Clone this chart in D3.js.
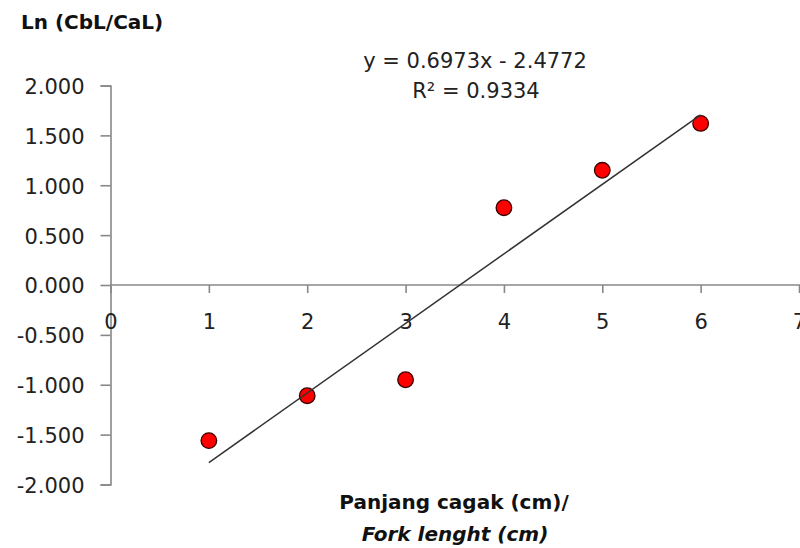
<!DOCTYPE html>
<html><head><meta charset="utf-8">
<script src="https://cdn.jsdelivr.net/npm/d3@7"></script>
<style>html,body{margin:0;padding:0;background:#fff;}svg{display:block;}</style>
</head><body>
<svg id="c" width="800" height="548"></svg>
<script>
const xValues = [1, 2, 3, 4, 5, 6];
const yValues = [-1.56, -1.11, -0.95, 0.775, 1.15, 1.62];
const xTicks = [0, 1, 2, 3, 4, 5, 6, 7];
const yTicks = [2, 1.5, 1, 0.5, 0, -0.5, -1, -1.5, -2];
const yTickLabels = ["2.000","1.500","1.000","0.500","0.000","-0.500","-1.000","-1.500","-2.000"];
const slope = 0.6973, intercept = -2.4772;
const trendRange = [1, 6];
const yTitle = "Ln (CbL/CaL)";
const xTitle1 = "Panjang cagak (cm)/";
const xTitle2 = "Fork lenght (cm)";
const eqText = "y = 0.6973x - 2.4772";
const r2Text = "R\u00B2 = 0.9334";

const svg = d3.select("#c");
const FONT = "'DejaVu Sans', Verdana, sans-serif";
const x = d3.scaleLinear().domain([0, 7]).range([110.5, 799]);
const y = d3.scaleLinear().domain([-2, 2]).range([484.5, 85.5]);
const axisColor = "#888888";

// Y axis
const yAxis = d3.axisLeft(y).tickValues(yTicks).tickSize(10)
  .tickFormat((d, i) => yTickLabels[i]);
const gy = svg.append("g").attr("transform", `translate(${x(0)},0)`).call(yAxis);
gy.select(".domain").attr("stroke", axisColor).attr("stroke-width", 1.6);
gy.selectAll(".tick line").attr("stroke", axisColor).attr("stroke-width", 1.6);
gy.selectAll(".tick text").attr("font-family", FONT).attr("font-size", 21)
  .attr("fill", "#222").attr("x", -26).attr("dy", "0.38em");

// X axis at y=0
const xAxis = d3.axisBottom(x).tickValues(xTicks).tickSize(8).tickFormat(d3.format("d"));
const gx = svg.append("g").attr("transform", `translate(0,${y(0)})`).call(xAxis);
gx.select(".domain").attr("stroke", axisColor).attr("stroke-width", 1.6).attr("d", `M${x(0)},0H800`);
gx.selectAll(".tick line").attr("stroke", axisColor).attr("stroke-width", 1.6);
gx.selectAll(".tick text").attr("font-family", FONT).attr("font-size", 21)
  .attr("fill", "#222").attr("y", 0).attr("dy", 44);

// points
svg.append("g").selectAll("circle").data(xValues).join("circle")
  .attr("cx", d => x(d)).attr("cy", (d, i) => y(yValues[i])).attr("r", 7.8)
  .attr("fill", "#ff0000").attr("stroke", "#3a0000").attr("stroke-width", 1.3);

// trendline
svg.append("line")
  .attr("x1", x(trendRange[0])).attr("y1", y(slope * trendRange[0] + intercept))
  .attr("x2", x(trendRange[1])).attr("y2", y(slope * trendRange[1] + intercept))
  .attr("stroke", "#333").attr("stroke-width", 1.5);

// titles
svg.append("text").attr("x", 21).attr("y", 29).attr("font-family", FONT)
  .attr("font-size", 20).attr("font-weight", "bold").attr("fill", "#111").text(yTitle);
svg.append("text").attr("x", 454).attr("y", 509).attr("text-anchor", "middle").attr("font-family", FONT)
  .attr("font-size", 20).attr("font-weight", "bold").attr("fill", "#111").text(xTitle1);
svg.append("text").attr("x", 455).attr("y", 541).attr("text-anchor", "middle").attr("font-family", FONT)
  .attr("font-size", 20).attr("font-weight", "bold").attr("font-style", "italic").attr("fill", "#111").text(xTitle2);

// equation
svg.append("text").attr("x", 475).attr("y", 68).attr("text-anchor", "middle").attr("font-family", FONT)
  .attr("font-size", 21).attr("fill", "#222").text(eqText);
svg.append("text").attr("x", 476).attr("y", 98).attr("text-anchor", "middle").attr("font-family", FONT)
  .attr("font-size", 21).attr("fill", "#222").text(r2Text);
</script>
</body></html>
